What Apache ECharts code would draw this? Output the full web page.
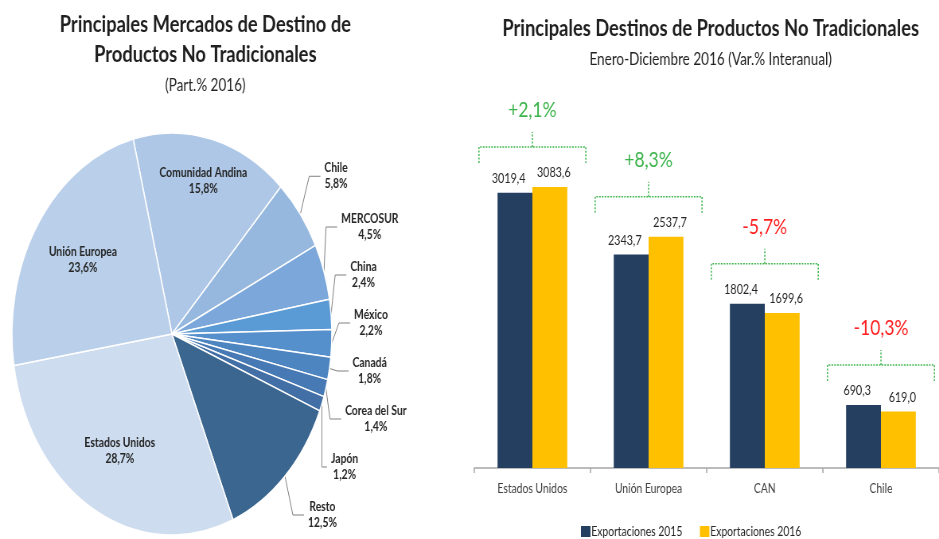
<!DOCTYPE html>
<html>
<head>
<meta charset="utf-8">
<script src="https://cdn.jsdelivr.net/npm/echarts@6/dist/echarts.min.js"></script>
<style>
  html, body { margin: 0; padding: 0; background: #fff; overflow: hidden; }
  /* the source picture is squeezed horizontally: draw wide, then compress */
  #main { position: absolute; left: 0; top: 0; width: 1180px; height: 539px;
          transform: scaleX(0.7958); transform-origin: 0 0; }
</style>
</head>
<body>
<div id="main"></div>
<script>
var regiones = ['Comunidad Andina', 'Chile', 'MERCOSUR', 'China', 'México', 'Canadá',
                'Corea del Sur', 'Japón', 'Resto', 'Estados Unidos', 'Unión Europea'];
var participacion = [15.8, 5.8, 4.5, 2.4, 2.2, 1.8, 1.4, 1.2, 12.5, 28.7, 23.6];

var destinos = ['Estados Unidos', 'Unión Europea', 'CAN', 'Chile'];
var exp2015 = [3019.4, 2343.7, 1802.4, 690.3];
var exp2016 = [3083.6, 2537.7, 1699.6, 619.0];
var variacion = ['+2,1%', '+8,3%', '-5,7%', '-10,3%'];

(function(){
    var FONT = "Lato, 'Open Sans', sans-serif";
    var paleta = ['#aec7e6', '#96b8df', '#7ba7da', '#5b9bd5', '#5590cc', '#4d85c1',
                  '#477ab4', '#4270a6', '#3b6690', '#cddcef', '#bad0ea'];
    var interiores = ['Comunidad Andina'];
    var interiores2 = ['Estados Unidos', 'Unión Europea'];
    var coma = function(v){ return Number(v).toFixed(1).replace('.', ','); };

    var myChart = echarts.init(document.getElementById('main'));

    var maximos = destinos.map(function(d, i){ return [i, Math.max(exp2015[i], exp2016[i])]; });

    var etiqueta = {
        fontFamily: FONT, fontSize: 13, fontWeight: 'bold', color: '#262626', lineHeight: 16,
        rich: { c: { fontFamily: FONT, fontSize: 13, fontWeight: 'bold', color: '#262626', lineHeight: 16, align: 'center' } }
    };
    var nombrePct = function(p){ return '{c|' + p.name + '}\n{c|' + coma(p.value) + '%}'; };
    var transparente = function(nombres){
        return regiones.map(function(r, i){
            return { name: r, value: participacion[i], label: { show: nombres.indexOf(r) >= 0 } };
        });
    };
    var pieBase = { type: 'pie', center: [216, 334], startAngle: 104, clockwise: true, silent: true };

    option = {
        backgroundColor: '#fff',
        textStyle: { fontFamily: FONT },
        title: [
            { text: 'Principales Mercados de Destino de\nProductos No Tradicionales',
              left: 253, top: 5, textAlign: 'center',
              textStyle: { fontFamily: FONT, fontSize: 23, fontWeight: 'bold', lineHeight: 30, color: '#1f1f1f' } },
            { text: '(Part.% 2016)', left: 253, top: 72, textAlign: 'center',
              textStyle: { fontFamily: FONT, fontSize: 17, fontWeight: 'normal', color: '#262626' } },
            { text: 'Principales Destinos de Productos No Tradicionales',
              left: 888, top: 12, textAlign: 'center',
              textStyle: { fontFamily: FONT, fontSize: 23, fontWeight: 'bold', color: '#1f1f1f' } },
            { text: 'Enero-Diciembre 2016 (Var.% Interanual)', left: 888, top: 46, textAlign: 'center',
              textStyle: { fontFamily: FONT, fontSize: 17, fontWeight: 'normal', color: '#1f1f1f' } }
        ],
        legend: {
            bottom: -4, left: 725,
            itemWidth: 12, itemHeight: 11, itemGap: 22,
            icon: 'rect',
            textStyle: { fontFamily: FONT, fontSize: 13, color: '#262626', padding: [0, 0, 0, -4] },
            data: ['Exportaciones 2015', 'Exportaciones 2016']
        },
        grid: { left: 596, width: 593, top: 149, bottom: 71 },
        xAxis: {
            type: 'category',
            data: destinos,
            axisLine: { lineStyle: { color: '#a6a6a6', width: 1.5 } },
            axisTick: { show: true, length: 5, lineStyle: { color: '#a6a6a6', width: 1.5 } },
            axisLabel: { interval: 0, fontFamily: FONT, fontSize: 13, color: '#404040', margin: 14 }
        },
        yAxis: { type: 'value', min: 0, max: 3500, show: false, splitLine: { show: false } },
        series: [
            { name: 'Exportaciones 2015', type: 'bar', data: exp2015, barWidth: '30%', barGap: '0%',
              itemStyle: { color: '#243f60' },
              label: { show: true, position: 'top', distance: 7, offset: [-8, 0], fontFamily: FONT, fontSize: 13.5,
                       color: '#262626', formatter: function(p){ return coma(p.value); } } },
            { name: 'Exportaciones 2016', type: 'bar', data: exp2016, barWidth: '30%',
              itemStyle: { color: '#ffc000' },
              label: { show: true, position: 'top', distance: 7, offset: [5, 0], fontFamily: FONT, fontSize: 13.5,
                       color: '#262626', formatter: function(p){ return coma(p.value); } } },
            // llaves punteadas y variacion interanual
            { type: 'custom', silent: true, clip: false, data: maximos,
              renderItem: function(params, api){
                  var p = api.coord([api.value(0), api.value(1)]);
                  var hw = api.size([1, 0])[0] * 0.46;
                  var y = p[1] - 40;
                  var verde = '#3cb44b';
                  var txt = variacion[params.dataIndex];
                  return { type: 'group', children: [
                      { type: 'polyline', shape: { points: [[p[0] - hw, y + 16], [p[0] - hw, y], [p[0] + hw, y], [p[0] + hw, y + 16]] },
                        style: { stroke: verde, lineWidth: 1.5, lineDash: [2, 1.5], fill: null } },
                      { type: 'line', shape: { x1: p[0], y1: y, x2: p[0], y2: y - 15 },
                        style: { stroke: verde, lineWidth: 1.5, lineDash: [2, 1.5] } },
                      { type: 'text', x: p[0], y: y - 37,
                        style: { text: txt, align: 'center', verticalAlign: 'middle',
                                 fill: txt.charAt(0) === '-' ? '#ff2020' : verde,
                                 font: '22px ' + FONT } }
                  ] };
              }
            },
            Object.assign({}, pieBase, {
                radius: 201,
                itemStyle: { borderColor: '#fff', borderWidth: 1.5 },
                label: Object.assign({ show: true, position: 'outside', padding: [7, 0], formatter: nombrePct }, etiqueta),
                labelLine: { show: true, length: 14, length2: 14, lineStyle: { color: '#808080', width: 1 } },
                data: regiones.map(function(r, i){
                    var dentro = interiores.concat(interiores2).indexOf(r) >= 0;
                    return { name: r, value: participacion[i], itemStyle: { color: paleta[i] },
                             label: { show: !dentro }, labelLine: { show: !dentro } };
                })
            }),
            Object.assign({}, pieBase, {
                radius: [109, 201], itemStyle: { color: 'transparent' },
                label: Object.assign({ position: 'inside', formatter: nombrePct }, etiqueta),
                labelLine: { show: false }, data: transparente(interiores)
            }),
            Object.assign({}, pieBase, {
                radius: [61, 201], itemStyle: { color: 'transparent' },
                label: Object.assign({ position: 'inside', formatter: nombrePct }, etiqueta),
                labelLine: { show: false }, data: transparente(interiores2)
            })
        ]
    };

    myChart.setOption(option);

    window.addEventListener('resize', function(){
        myChart.resize();
    });
})();
</script>
</body>
</html>
